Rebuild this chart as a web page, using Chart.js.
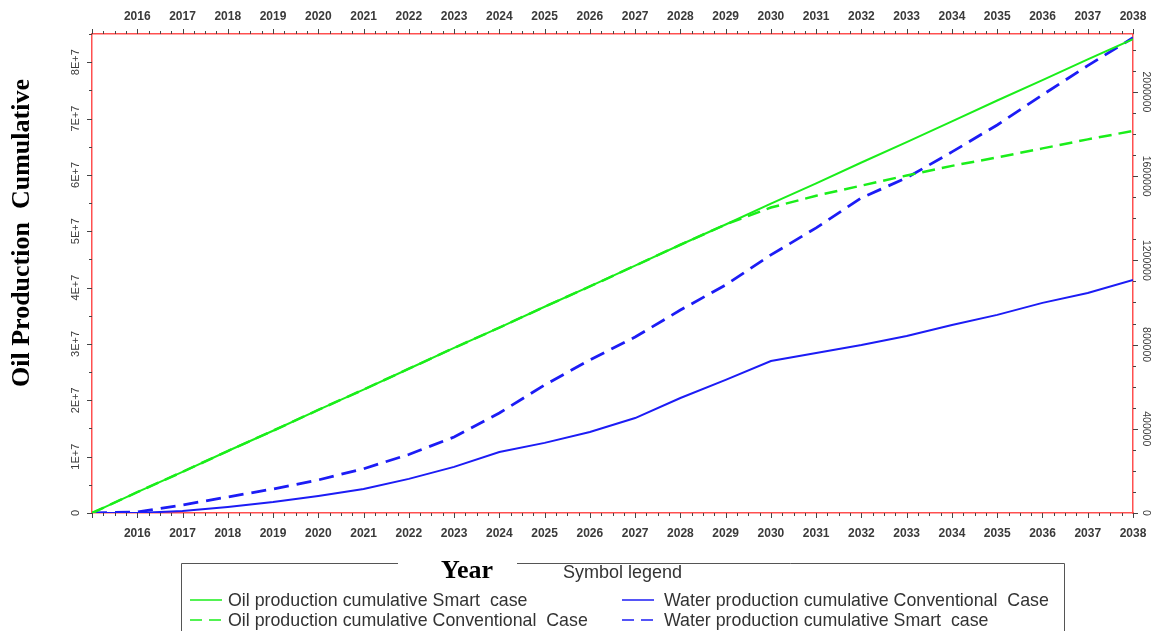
<!DOCTYPE html>
<html>
<head>
<meta charset="utf-8">
<title>Oil and water production cumulative</title>
<script src="https://cdn.jsdelivr.net/npm/chart.js@4.4.0/dist/chart.umd.min.js"></script>
<style>
  html, body { margin: 0; padding: 0; background: #fff; }
  #wrap { width: 1151px; height: 631px; position: relative; }
</style>
</head>
<body>
<div id="wrap"><canvas id="prodChart"></canvas></div>
<script>
// ===== DATA =====
const years = [2015, 2016, 2017, 2018, 2019, 2020, 2021, 2022, 2023, 2024, 2025, 2026,
               2027, 2028, 2029, 2030, 2031, 2032, 2033, 2034, 2035, 2036, 2037, 2038];

const oilSmart = [0, 3.7e6, 7.3e6, 1.10e7, 1.46e7, 1.83e7, 2.19e7, 2.56e7, 2.93e7, 3.29e7, 3.66e7, 4.02e7,
                  4.39e7, 4.76e7, 5.12e7, 5.49e7, 5.85e7, 6.22e7, 6.58e7, 6.95e7, 7.32e7, 7.68e7, 8.05e7, 8.41e7];
const oilConventional = [0, 3.7e6, 7.3e6, 1.10e7, 1.46e7, 1.83e7, 2.19e7, 2.56e7, 2.93e7, 3.29e7, 3.66e7, 4.02e7,
                         4.39e7, 4.76e7, 5.12e7, 5.42e7, 5.63e7, 5.81e7, 5.99e7, 6.16e7, 6.31e7, 6.47e7, 6.63e7, 6.78e7];
const waterConventional = [0, 0, 9500, 28500, 52000, 81000, 114000, 162000, 219000, 290000, 333000, 385000,
                           451000, 546000, 632000, 722000, 760000, 798000, 841000, 893000, 941000, 998000, 1045000, 1107000];
const waterSmart = [0, 5000, 38000, 76000, 114000, 157000, 210000, 278000, 361000, 475000, 608000, 727000,
                    836000, 964000, 1083000, 1226000, 1354000, 1497000, 1592000, 1715000, 1843000, 1986000, 2125000, 2257000];

const oilTicks = [0, 1e7, 2e7, 3e7, 4e7, 5e7, 6e7, 7e7, 8e7];
const oilTickLabels = ['0', '1E+7', '2E+7', '3E+7', '4E+7', '5E+7', '6E+7', '7E+7', '8E+7'];
const waterTicks = [0, 400000, 800000, 1200000, 1600000, 2000000];
const waterTickLabels = ['0', '400000', '800000', '1200000', '1600000', '2000000'];

const seriesNames = [
  'Oil production cumulative Smart  case',
  'Oil production cumulative Conventional  Case',
  'Water production cumulative Conventional  Case',
  'Water production cumulative Smart  case'
];

// ===== STYLE =====
const GREEN = '#1aee1a';
const BLUE = '#1c1cf5';
const FRAME = '#ff5050';
const TICK = '#444';
const TEXT = '#333';

function points(values) {
  return years.map((yr, i) => ({ x: yr, y: values[i] }));
}

// ===== EXTRA DRAWING: tick marks, rotated labels, titles, symbol legend =====
const extrasPlugin = {
  id: 'extras',
  afterDraw(chart) {
    const ctx = chart.ctx;
    const area = chart.chartArea;
    const sx = chart.scales.x;
    const sy = chart.scales.y;
    const sy2 = chart.scales.y2;
    ctx.save();

    // tick marks
    ctx.strokeStyle = TICK;
    ctx.lineWidth = 1;
    ctx.beginPath();
    for (let i = 0; i <= 92; i++) {
      const px = Math.round(sx.getPixelForValue(2015 + i / 4)) + 0.5;
      const len = i % 4 === 0 ? 5 : 3;
      ctx.moveTo(px, area.top); ctx.lineTo(px, area.top - len);
      ctx.moveTo(px, area.bottom); ctx.lineTo(px, area.bottom + len);
    }
    for (let v = 0; v <= sy.max; v += 5e6) {
      const py = Math.round(sy.getPixelForValue(v)) + 0.5;
      const len = v % 1e7 === 0 ? 5 : 3;
      ctx.moveTo(area.left, py); ctx.lineTo(area.left - len, py);
    }
    for (let v = 0; v <= sy2.max; v += 1e5) {
      const py = Math.round(sy2.getPixelForValue(v)) + 0.5;
      const len = v % 4e5 === 0 ? 5 : 3;
      ctx.moveTo(area.right, py); ctx.lineTo(area.right + len, py);
    }
    ctx.stroke();

    // rotated y tick labels
    ctx.fillStyle = '#3a3a3a';
    ctx.font = '11px "Liberation Sans", Arial, sans-serif';
    ctx.textAlign = 'center';
    ctx.textBaseline = 'middle';
    oilTicks.forEach((v, i) => {
      ctx.save();
      ctx.translate(area.left - 16, sy.getPixelForValue(v));
      ctx.rotate(-Math.PI / 2);
      ctx.fillText(oilTickLabels[i], 0, 0);
      ctx.restore();
    });
    ctx.font = '10.5px "Liberation Sans", Arial, sans-serif';
    waterTicks.forEach((v, i) => {
      ctx.save();
      ctx.translate(area.right + 13, sy2.getPixelForValue(v));
      ctx.rotate(Math.PI / 2);
      ctx.fillText(waterTickLabels[i], 0, 0);
      ctx.restore();
    });

    // y axis title
    ctx.fillStyle = '#000';
    ctx.font = 'bold 26px "Liberation Serif", "Times New Roman", serif';
    ctx.save();
    ctx.translate(22, 233);
    ctx.rotate(-Math.PI / 2);
    ctx.fillText('Oil Production  Cumulative', 0, 0);
    ctx.restore();

    // symbol legend box with the x title in its top edge
    const boxL = 181.5, boxR = 1064.5, boxT = 563.5, boxB = 640;
    ctx.strokeStyle = '#555';
    ctx.lineWidth = 1;
    ctx.beginPath();
    ctx.moveTo(398, boxT); ctx.lineTo(boxL, boxT); ctx.lineTo(boxL, boxB);
    ctx.moveTo(517, boxT); ctx.lineTo(boxR, boxT); ctx.lineTo(boxR, boxB);
    ctx.stroke();

    ctx.fillStyle = '#000';
    ctx.font = 'bold 26px "Liberation Serif", "Times New Roman", serif';
    ctx.fillText('Year', 467, 571);

    ctx.fillStyle = TEXT;
    ctx.textAlign = 'left';
    ctx.font = '18px "Liberation Sans", Arial, sans-serif';
    ctx.fillText('Symbol legend', 563, 573);

    const entries = [
      { name: seriesNames[0], color: GREEN, dash: [], x: 190, tx: 228, y: 600 },
      { name: seriesNames[1], color: GREEN, dash: [12, 7], x: 190, tx: 228, y: 620 },
      { name: seriesNames[2], color: BLUE, dash: [], x: 622, tx: 664, y: 600 },
      { name: seriesNames[3], color: BLUE, dash: [12, 7], x: 622, tx: 664, y: 620 }
    ];
    ctx.font = '17.8px "Liberation Sans", Arial, sans-serif';
    entries.forEach(e => {
      ctx.strokeStyle = e.color;
      ctx.lineWidth = 1.5;
      ctx.setLineDash(e.dash);
      ctx.beginPath();
      ctx.moveTo(e.x, e.y); ctx.lineTo(e.x + 32, e.y);
      ctx.stroke();
      ctx.setLineDash([]);
      ctx.fillStyle = TEXT;
      ctx.fillText(e.name, e.tx, e.y + 1);
    });

    ctx.restore();
  }
};

// ===== CHART =====
const xTickOpts = {
  stepSize: 1,
  autoSkip: false,
  maxRotation: 0,
  color: '#3a3a3a',
  font: { family: '"Liberation Sans", Arial, sans-serif', size: 12, weight: 'bold' },
  callback: v => (v === 2015 ? '' : String(v))
};

new Chart(document.getElementById('prodChart'), {
  type: 'line',
  data: {
    datasets: [
      { label: seriesNames[0], data: points(oilSmart), yAxisID: 'y', borderColor: GREEN, borderWidth: 2 },
      { label: seriesNames[1], data: points(oilConventional), yAxisID: 'y', borderColor: GREEN, borderWidth: 2.5, borderDash: [13, 7] },
      { label: seriesNames[2], data: points(waterConventional), yAxisID: 'y2', borderColor: BLUE, borderWidth: 2 },
      { label: seriesNames[3], data: points(waterSmart), yAxisID: 'y2', borderColor: BLUE, borderWidth: 2.8, borderDash: [15, 8] }
    ]
  },
  options: {
    responsive: true,
    maintainAspectRatio: false,
    animation: false,
    layout: { padding: 0 },
    elements: { point: { radius: 0 }, line: { tension: 0, fill: false } },
    plugins: { legend: { display: false }, tooltip: { enabled: false } },
    scales: {
      x: {
        type: 'linear', position: 'bottom', min: 2015, max: 2038,
        grid: { display: false, drawTicks: false },
        border: { color: FRAME, width: 1.5 },
        ticks: { ...xTickOpts, padding: 13 },
        afterFit: s => { s.height = 118; s.paddingLeft = 0; s.paddingRight = 0; }
      },
      x2: {
        type: 'linear', position: 'top', min: 2015, max: 2038,
        grid: { display: false, drawTicks: false },
        border: { color: FRAME, width: 1.5 },
        ticks: { ...xTickOpts, padding: 10 },
        afterFit: s => { s.height = 34; s.paddingLeft = 0; s.paddingRight = 0; }
      },
      y: {
        type: 'linear', position: 'left', min: 0, max: 8.5e7,
        grid: { display: false },
        border: { color: FRAME, width: 1.5 },
        ticks: { display: false },
        afterFit: s => { s.width = 92; }
      },
      y2: {
        type: 'linear', position: 'right', min: 0, max: 2.275e6,
        grid: { display: false },
        border: { color: FRAME, width: 1.5 },
        ticks: { display: false },
        afterFit: s => { s.width = 18; }
      }
    }
  },
  plugins: [extrasPlugin]
});
</script>
</body>
</html>
